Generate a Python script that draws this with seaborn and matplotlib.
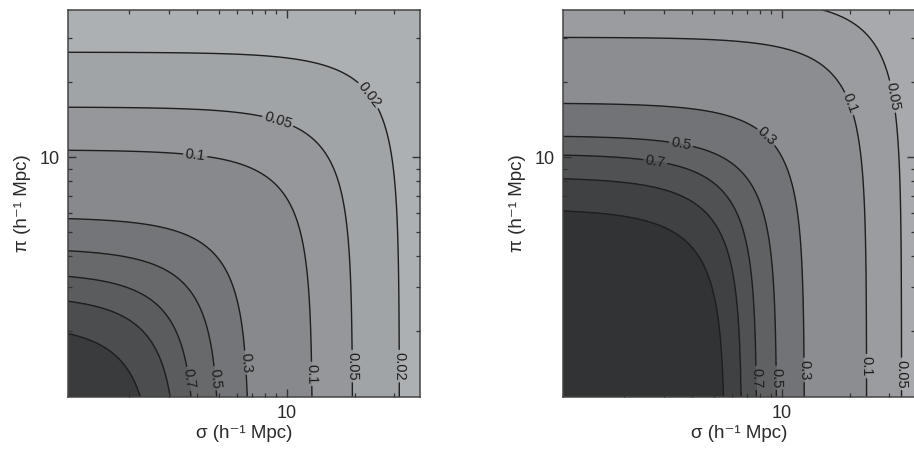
import numpy as np
import matplotlib
matplotlib.use("Agg")
import matplotlib.pyplot as plt
from matplotlib.ticker import FixedLocator, FixedFormatter, LogLocator, NullFormatter
import seaborn as sns

sns.set_theme(style="ticks")
plt.rcParams["font.family"] = ["Liberation Sans", "DejaVu Sans"]

# Contour levels of xi(sigma, pi) and where each contour meets the axes
# (sigma extent along the bottom, pi extent along the left side), h^-1 Mpc.
left_levels = [0.02, 0.05, 0.1, 0.3, 0.5, 0.7, 1.0, 2.0]
left_sigma_ext = [31.6, 19.6, 13.0, 6.8, 5.05, 3.96, 3.30, 2.6]
left_pi_ext = [26.4, 15.9, 10.7, 5.74, 4.31, 3.45, 2.79, 2.15]

right_levels = [0.05, 0.1, 0.3, 0.5, 0.7, 1.0, 2.0]
right_sigma_ext = [34.0, 23.8, 12.6, 9.5, 7.75, 6.65, 5.6]
right_pi_ext = [43.6, 30.3, 16.5, 12.2, 10.3, 8.3, 6.2]

# Contour labels drawn on each panel: (level, sigma, pi)
left_labels = [(0.02, 21.5, 16.9), (0.05, 9.0, 13.4), (0.1, 3.95, 10.7),
               (0.02, 31.6, 1.45), (0.05, 19.6, 1.45), (0.1, 13.0, 1.35),
               (0.3, 6.8, 1.5), (0.5, 5.05, 1.3), (0.7, 3.96, 1.3)]
right_labels = [(0.05, 29.8, 17.4), (0.1, 18.1, 15.9), (0.3, 8.4, 11.9),
                (0.5, 3.6, 11.7), (0.7, 2.75, 9.7),
                (0.05, 34.0, 1.35), (0.1, 23.8, 1.45), (0.3, 12.6, 1.4),
                (0.5, 9.5, 1.3), (0.7, 7.75, 1.3)]

level_text = {0.02: "0.02", 0.05: "0.05", 0.1: "0.1", 0.3: "0.3",
              0.5: "0.5", 0.7: "0.7", 1.0: "1.0", 2.0: "2.0"}

left_bands = ["#adb0b3", "#a1a4a7", "#95979a", "#87898c", "#737578",
              "#67696b", "#5a5c5e", "#4c4d4f", "#3a3b3d"]
right_bands = ["#a7a9ac", "#9a9c9f", "#8b8d90", "#717376", "#5f6163",
               "#4f5153", "#404143", "#323335"]

XLIM = (1.07, 39.0)
YLIM = (1.09, 39.0)
SHAPE_N = 2.0


def xi_field(S, P, levels, s_ext, p_ext, n=SHAPE_N):
    """Field whose iso-lines follow the rounded contours given by their axis extents."""
    logL = np.log(np.asarray(levels, float))
    logH = np.log(np.stack([(S / s) ** n + (P / p) ** n
                            for s, p in zip(s_ext, p_ext)]))
    k = len(levels)
    j = (logH < 0).sum(axis=0)
    a = np.clip(j - 1, 0, k - 2)
    b = a + 1
    ha = np.take_along_axis(logH, a[None], axis=0)[0]
    hb = np.take_along_axis(logH, b[None], axis=0)[0]
    frac = (0.0 - ha) / (hb - ha)
    logz = logL[a] + frac * (logL[b] - logL[a])
    return np.exp(logz)


sig = np.logspace(np.log10(0.9), np.log10(50), 500)
pi_ = np.logspace(np.log10(0.9), np.log10(50), 500)
S, P = np.meshgrid(sig, pi_)

fig = plt.figure(figsize=(9.14, 4.53), dpi=100)
fig.patch.set_facecolor("white")

text_color = "#2a2a2a"
tick_font = 13
axes_specs = [
    ([0.0744, 0.1236, 0.3851, 0.8543], left_levels, left_sigma_ext, left_pi_ext,
     left_bands, left_labels),
    ([0.6160, 0.1236, 0.3851, 0.8543], right_levels, right_sigma_ext, right_pi_ext,
     right_bands, right_labels),
]

for rect, levels, s_ext, p_ext, bands, labels in axes_specs:
    ax = fig.add_axes(rect)
    ax.set_axisbelow(False)
    Z = xi_field(S, P, levels, s_ext, p_ext)
    fill_levels = [1e-6] + list(levels) + [1e6]
    ax.contourf(S, P, Z, levels=fill_levels, colors=sns.color_palette(bands))
    cs = ax.contour(S, P, Z, levels=levels, colors="#1e1e1e", linewidths=1.0)
    ax.set_xscale("log")
    ax.set_yscale("log")
    ax.set_xlim(*XLIM)
    ax.set_ylim(*YLIM)

    lab_levels = sorted(set(l for l, _, _ in labels))
    ax.clabel(cs, levels=lab_levels, manual=[(s, p) for _, s, p in labels],
              fmt=level_text, inline=True, inline_spacing=2, fontsize=10.5,
              colors="#1e1e1e")

    for axis in (ax.xaxis, ax.yaxis):
        axis.set_major_locator(FixedLocator([10]))
        axis.set_major_formatter(FixedFormatter(["10"]))
        axis.set_minor_locator(LogLocator(base=10, subs=np.arange(2, 10)))
        axis.set_minor_formatter(NullFormatter())
    ax.tick_params(which="both", direction="in", top=True, right=True,
                   bottom=True, left=True,
                   color="#333333", labelcolor=text_color, labelsize=tick_font)
    ax.tick_params(which="major", length=6, width=1.0, pad=6)
    ax.tick_params(which="minor", length=3, width=0.9)
    for sp in ax.spines.values():
        sp.set_color("#444444")
        sp.set_linewidth(1.1)

    ax.set_xlabel("σ (h⁻¹ Mpc)", fontsize=13.5, color=text_color, labelpad=2)
    ax.set_ylabel("π (h⁻¹ Mpc)", fontsize=13.5, color=text_color, labelpad=6)

fig.savefig("out.png", dpi=100, facecolor="white")
